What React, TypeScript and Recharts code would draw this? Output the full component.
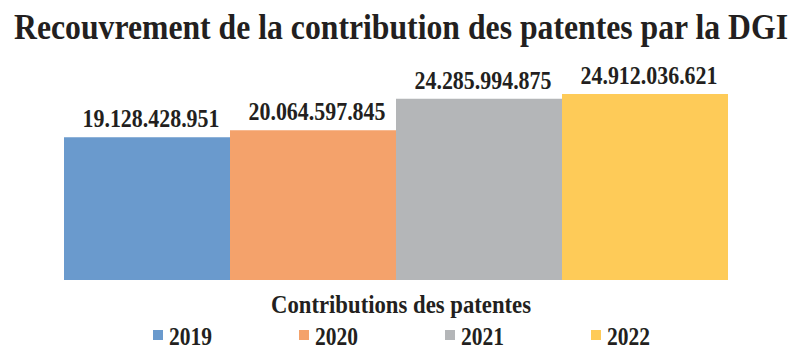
import React from 'react';
import { BarChart, Bar, XAxis, YAxis, Legend } from 'recharts';

const title = 'Recouvrement de la contribution des patentes par la DGI';
const category = 'Contributions des patentes';
const years = ['2019', '2020', '2021', '2022'];
const values = [19128428951, 20064597845, 24285994875, 24912036621];
const colors = ['#6a9acd', '#f4a26b', '#b4b6b8', '#fecb58'];

const data = [
  years.reduce((row: any, y, i) => {
    row[y] = values[i];
    return row;
  }, { name: category }),
];

const FONT = '"Liberation Serif", "Times New Roman", serif';
const INK = '#231f20';

const fmt = (v: number) => String(v).replace(/\B(?=(\d{3})+(?!\d))/g, '.');

const renderLabel = (props: any) => {
  const { x, y, width, value } = props;
  return (
    <g transform={`translate(${x + width / 2 + 4},${y - 10}) scale(1,1.18)`}>
      <text
        x={0}
        y={0}
        textAnchor="middle"
        fontFamily={FONT}
        fontWeight="bold"
        fontSize={21}
        fill={INK}
        textLength={137}
        lengthAdjust="spacingAndGlyphs"
      >
        {fmt(value)}
      </text>
    </g>
  );
};

const renderTick = (props: any) => {
  const { x, y, payload } = props;
  return (
    <g transform={`translate(${x + 5},${y + 33}) scale(1,1.2)`}>
      <text
        x={0}
        y={0}
        textAnchor="middle"
        fontFamily={FONT}
        fontWeight="bold"
        fontSize={21}
        fill={INK}
        textLength={260}
        lengthAdjust="spacingAndGlyphs"
      >
        {payload.value}
      </text>
    </g>
  );
};

const renderLegend = () => (
  <svg width={800} height={47} style={{ display: 'block', overflow: 'visible' }}>
    {years.map((y, i) => (
      <g key={y}>
        <rect x={153 + i * 146} y={20} width={10} height={10} fill={colors[i]} />
        <g transform={`translate(${169 + i * 146},35) scale(1,1.2)`}>
          <text
            x={0}
            y={0}
            fontFamily={FONT}
            fontWeight="bold"
            fontSize={21}
            fill={INK}
            textLength={43}
            lengthAdjust="spacingAndGlyphs"
          >
            {y}
          </text>
        </g>
      </g>
    ))}
  </svg>
);

export default function App() {
  return (
    <div style={{ position: 'absolute', left: 0, top: 0, width: 800, height: 357, background: '#fff' }}>
      <svg width={800} height={52} style={{ position: 'absolute', left: 0, top: 0, display: 'block' }}>
        <g transform="translate(14,39) scale(1,1.18)">
          <text
            x={0}
            y={0}
            fontFamily={FONT}
            fontWeight="bold"
            fontSize={30}
            fill={INK}
            textLength={774}
            lengthAdjust="spacingAndGlyphs"
          >
            {title}
          </text>
        </g>
      </svg>
      <div style={{ position: 'absolute', left: 0, top: 0 }}>
        <BarChart
          width={800}
          height={357}
          data={data}
          margin={{ top: 56, right: 72, left: 64, bottom: 0 }}
          barCategoryGap={0}
          barGap={0}
        >
          <YAxis hide domain={[0, 30000000000]} />
          <XAxis
            dataKey="name"
            axisLine={false}
            tickLine={false}
            tickSize={0}
            tickMargin={0}
            height={30}
            tick={renderTick}
          />
          <Legend
            verticalAlign="bottom"
            content={renderLegend}
            wrapperStyle={{ left: 0, width: 800, bottom: 0, height: 47 }}
          />
          {years.map((y, i) => (
            <Bar key={y} dataKey={y} fill={colors[i]} isAnimationActive={false} label={renderLabel} />
          ))}
        </BarChart>
      </div>
    </div>
  );
}
